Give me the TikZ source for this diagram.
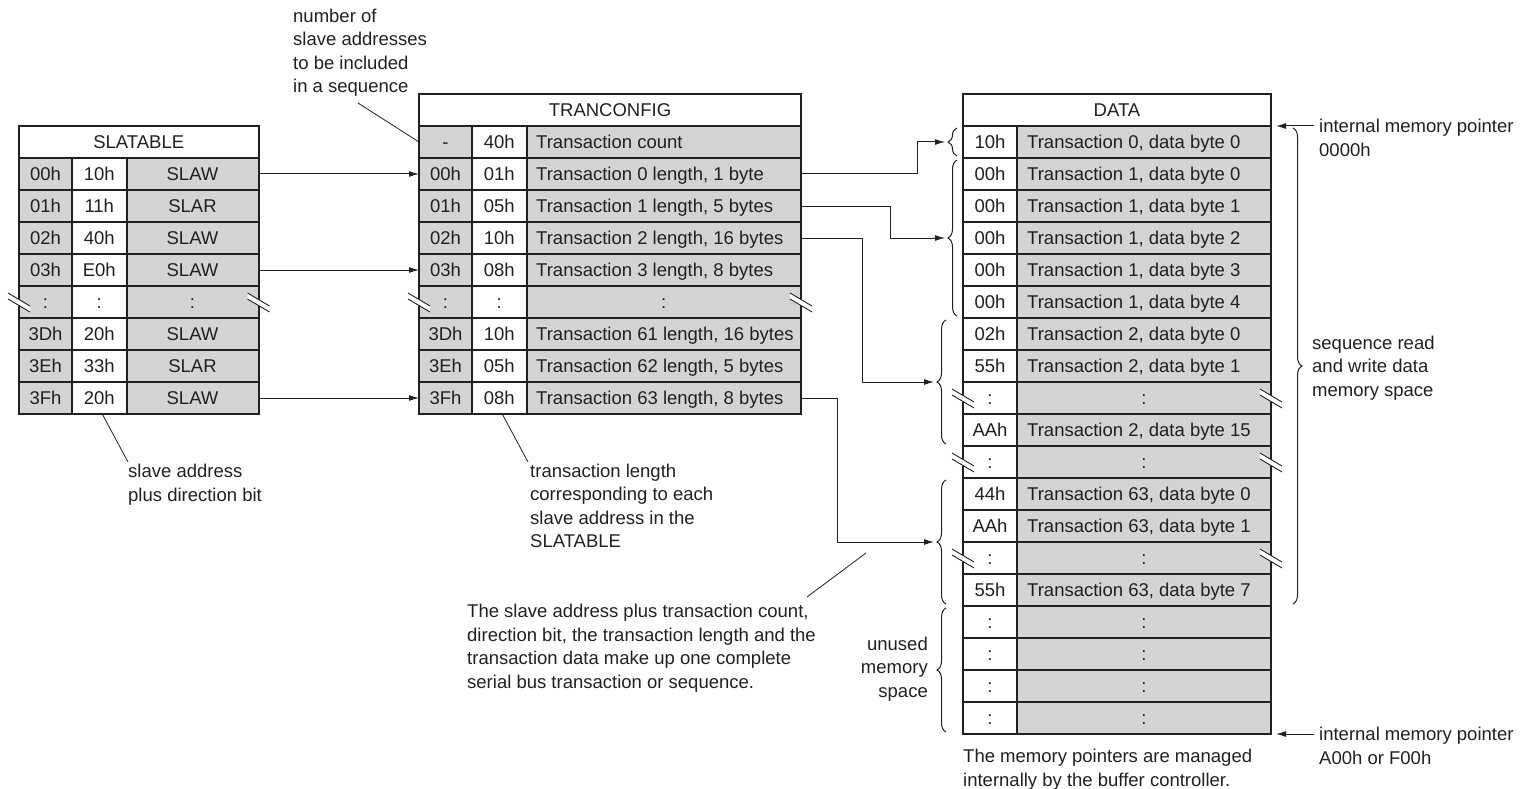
\documentclass[tikz,border=0pt]{standalone}
\usepackage{fontspec}
\setmainfont{Liberation Sans}
\usetikzlibrary{arrows.meta,decorations.pathreplacing,calc}
\definecolor{lc}{RGB}{35,31,32}
\definecolor{cg}{RGB}{209,211,212}
\newcommand\brkmark[2]{%
  \fill[white] ({#1-11},{#2-9}) -- ({#1+11},{#2+4}) -- ({#1+11},{#2+10}) -- ({#1-11},{#2-3}) -- cycle;
  \draw[lc, line width=0.9pt] ({#1-11},{#2-9}) -- ({#1+11},{#2+4}) ({#1-11},{#2-3}) -- ({#1+11},{#2+10});}
\begin{document}
\begin{tikzpicture}[x=1pt,y=-1pt,
  every node/.style={font=\fontsize{18.5pt}{23.5pt}\selectfont, text=lc},
  cell/.style={draw=lc, line width=2pt, minimum height=32pt, inner sep=0pt, outer sep=0pt, anchor=north west, text height=13.3pt, text depth=0pt},
  gcell/.style={cell, fill=cg},
  wcell/.style={cell, fill=white},
  ctext/.style={anchor=west, inner sep=0pt, text height=13.3pt, text depth=0pt},
  lbl/.style={inner sep=0pt, align=left, anchor=west},
  arr/.style={draw=lc, line width=1pt, -{Latex[length=10pt,width=6pt]}},
  lead/.style={draw=lc, line width=0.8pt},
  brc/.style={draw=lc, line width=1pt, decorate, decoration={brace, amplitude=9pt}}
]
\useasboundingbox (0,0) rectangle (1524,789);

% ---------------- SLATABLE ----------------
\node[wcell, minimum width=239.5pt] (shead) at (19,126) {SLATABLE};
\foreach \k/\a/\b/\c in {2/00h/10h/SLAW,3/01h/11h/SLAR,4/02h/40h/SLAW,5/03h/E0h/SLAW,6/:/:/:,7/3Dh/20h/SLAW,8/3Eh/33h/SLAR,9/3Fh/20h/SLAW}{
  \node[gcell, minimum width=53pt] (sa\k) at (19,{94+32*\k}) {\a};
  \node[wcell, minimum width=54.5pt] (sb\k) at (72,{94+32*\k}) {\b};
  \node[gcell, minimum width=132pt] (sc\k) at (126.5,{94+32*\k}) {\c};
}

% ---------------- TRANCONFIG ----------------
\node[wcell, minimum width=382pt] (thead) at (419,94) {TRANCONFIG};
\foreach \k/\a/\b/\c in {1/-/40h/{Transaction count},2/00h/01h/{Transaction 0 length, 1 byte},3/01h/05h/{Transaction 1 length, 5 bytes},4/02h/10h/{Transaction 2 length, 16 bytes},5/03h/08h/{Transaction 3 length, 8 bytes},7/3Dh/10h/{Transaction 61 length, 16 bytes},8/3Eh/05h/{Transaction 62 length, 5 bytes},9/3Fh/08h/{Transaction 63 length, 8 bytes}}{
  \node[gcell, minimum width=53pt] (ta\k) at (419,{94+32*\k}) {\a};
  \node[wcell, minimum width=54.5pt] (tb\k) at (472,{94+32*\k}) {\b};
  \node[gcell, minimum width=274.5pt] (tc\k) at (526.5,{94+32*\k}) {};
  \node[ctext] (tt\k) at ([xshift=9.5pt]tc\k.west) {\c};
}
\node[gcell, minimum width=53pt] (ta6) at (419,286) {:};
\node[wcell, minimum width=54.5pt] (tb6) at (472,286) {:};
\node[gcell, minimum width=274.5pt] (tc6) at (526.5,286) {:};

% ---------------- DATA ----------------
\node[wcell, minimum width=308pt] (dhead) at (963,94) {DATA};
\foreach \k/\a/\b in {1/10h/{Transaction 0, data byte 0},2/00h/{Transaction 1, data byte 0},3/00h/{Transaction 1, data byte 1},4/00h/{Transaction 1, data byte 2},5/00h/{Transaction 1, data byte 3},6/00h/{Transaction 1, data byte 4},7/02h/{Transaction 2, data byte 0},8/55h/{Transaction 2, data byte 1},10/AAh/{Transaction 2, data byte 15},12/44h/{Transaction 63, data byte 0},13/AAh/{Transaction 63, data byte 1},15/55h/{Transaction 63, data byte 7}}{
  \node[wcell, minimum width=54pt] (da\k) at (963,{94+32*\k}) {\a};
  \node[gcell, minimum width=254pt] (db\k) at (1017,{94+32*\k}) {};
  \node[ctext] (dt\k) at ([xshift=10pt]db\k.west) {\b};
}
\foreach \k in {9,11,14,16,17,18,19}{
  \node[wcell, minimum width=54pt] (da\k) at (963,{94+32*\k}) {:};
  \node[gcell, minimum width=254pt] (db\k) at (1017,{94+32*\k}) {:};
}

% ---------------- break marks ----------------
\brkmark{19}{302}
\brkmark{258.5}{302}
\brkmark{419}{302}
\brkmark{801}{302}
\brkmark{963}{398}
\brkmark{1271}{398}
\brkmark{963}{462}
\brkmark{1271}{462}
\brkmark{963}{558}
\brkmark{1271}{558}

% ---------------- arrows SLATABLE -> TRANCONFIG ----------------
\draw[arr] (sc2.east) -- (ta2.west);
\draw[arr] (sc5.east) -- (ta5.west);
\draw[arr] (sc9.east) -- (ta9.west);

% ---------------- braces ----------------
\draw[brc] (957,156) -- (957,128);
\draw[brc] (957,316) -- (957,160);
\draw[brc] (946,444) -- (946,320);
\draw[brc] (946,604) -- (946,480);
\draw[brc] (946,732) -- (946,608);
\draw[brc] (1293,128) -- (1293,604);

\coordinate (e1) at (945,142);
\coordinate (e2) at (945,238);
\coordinate (e3) at (934,382);
\coordinate (e4) at (934,542);
\draw[arr] (tc2.east) -- ++(116,0) |- (e1);
\draw[arr] (tc3.east) -- ++(89,0) |- (e2);
\draw[arr] (tc4.east) -- ++(61,0) |- (e3);
\draw[arr] (tc9.east) -- ++(36,0) |- (e4);

% ---------------- labels ----------------
\node[lbl] (lnum) at (293,52.5) {number of\\slave addresses\\to be included\\in a sequence};
\coordinate (lnumend) at (358,103);
\draw[lead] (lnumend) -- (ta1.west);

\node[lbl] (lsla) at (128,484.5) {slave address\\plus direction bit};
\coordinate (lslaend) at (128,462);
\draw[lead] ([xshift=3pt]sb9.south) -- (lslaend);

\node[lbl] (ltl) at (530,506) {transaction length\\corresponding to each\\slave address in the\\SLATABLE};
\coordinate (ltlend) at (528,462);
\draw[lead] ([xshift=3pt]tb9.south) -- (ltlend);

\node[lbl] (lseq) at (467,648) {The slave address plus transaction count,\\direction bit, the transaction length and the\\transaction data make up one complete\\serial bus transaction or sequence.};
\coordinate (lseqa) at (807,597);
\coordinate (lseqb) at (866,553);
\draw[lead] (lseqa) -- (lseqb);

\node[lbl, anchor=east, align=right] (lunused) at (928,669) {unused\\memory\\space};

\node[lbl] (lmgr) at (963,769.5) {The memory pointers are managed\\internally by the buffer controller.};

\node[lbl] (lseqrw) at (1312,368) {sequence read\\and write data\\memory space};

\node[lbl] (lptop) at (1319,138) {internal memory pointer\\0000h};
\coordinate (ptop) at (1314,126);
\draw[arr] (ptop) -- ([xshift=5pt]dhead.south east);

\node[lbl] (lpbot) at (1319,746) {internal memory pointer\\A00h or F00h};
\coordinate (pbot) at (1314,734);
\draw[arr] (pbot) -- ([xshift=5pt]db19.south east);
\end{tikzpicture}
\end{document}
